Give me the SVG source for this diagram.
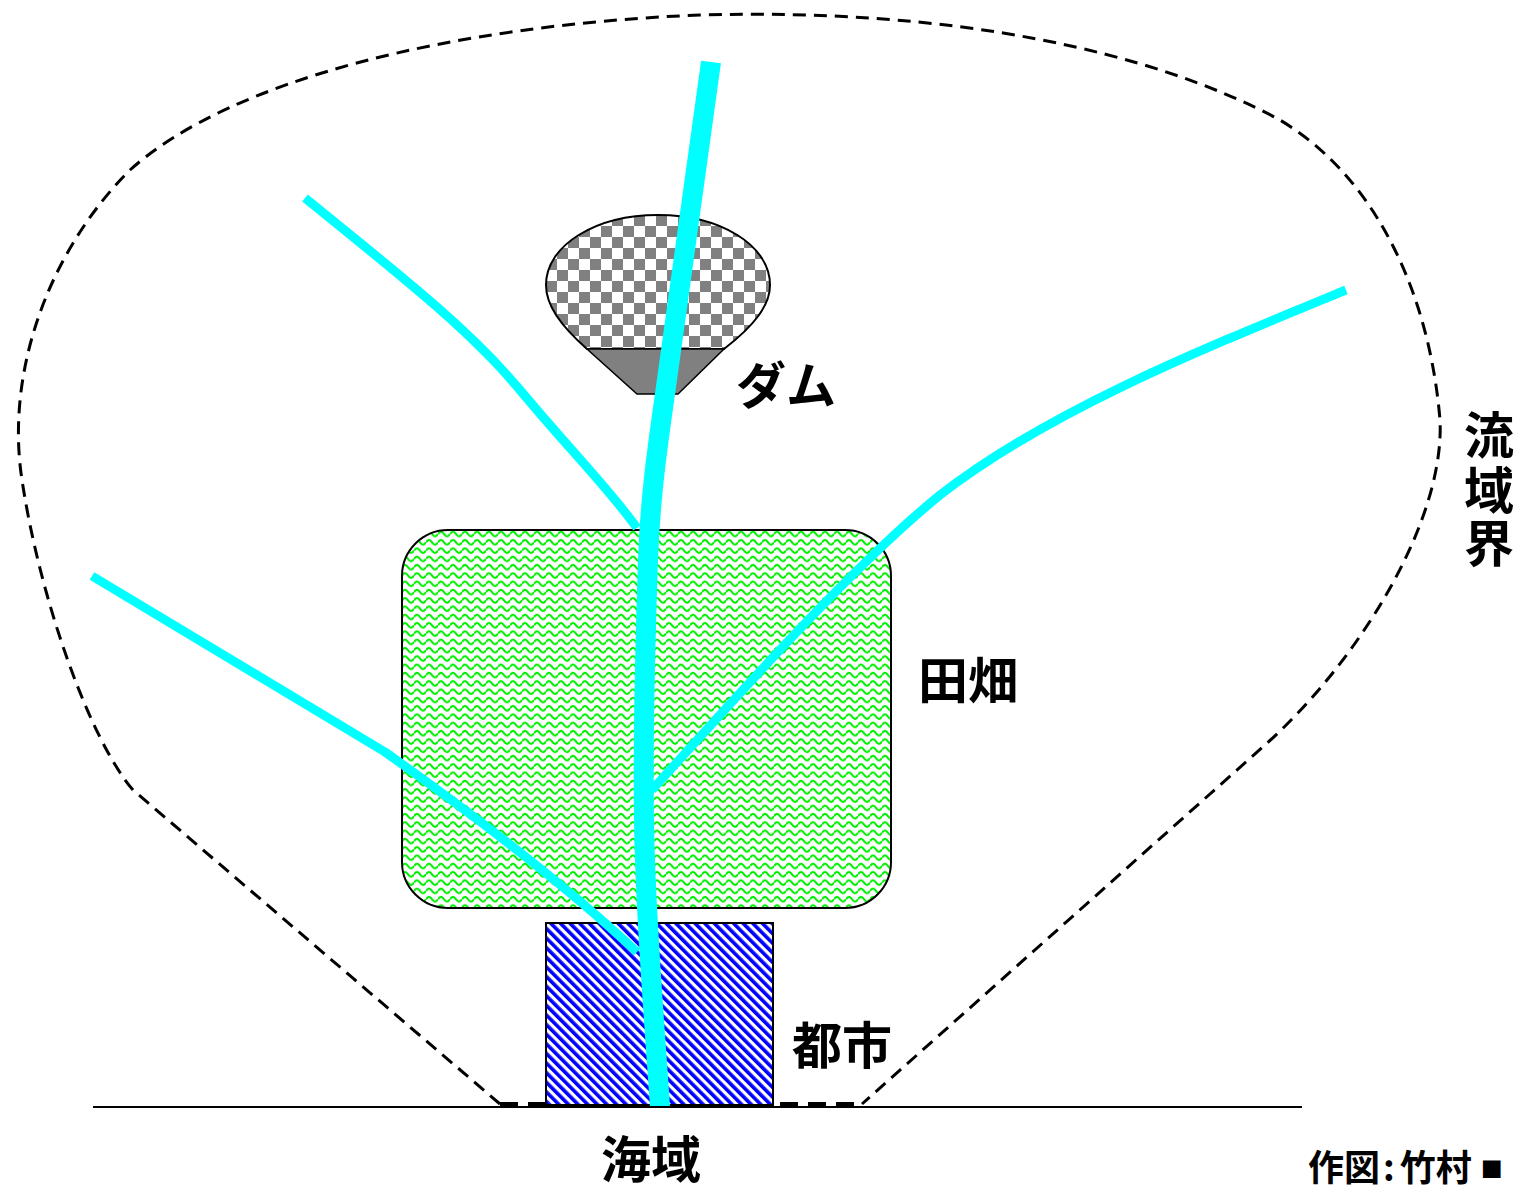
<svg xmlns="http://www.w3.org/2000/svg" width="1519" height="1186" viewBox="0 0 1519 1186">
  <style>
    .lbl { font-family: "Noto Sans CJK JP", "Noto Sans", sans-serif; font-weight: 700; font-size: 50px; fill: #000; }
    .credit { font-family: "Noto Sans CJK JP", "Noto Sans", sans-serif; font-weight: 700; font-size: 36px; fill: #000; }
    .river { fill: none; stroke: #00FFFF; stroke-linecap: butt; stroke-linejoin: round; }
    .branch { stroke-width: 9; }
    .boundary { fill: none; stroke: #000; stroke-width: 3; stroke-dasharray: 13 8; }
  </style>
  <defs>
    <!-- checker fill for the reservoir -->
    <pattern id="checker" patternUnits="userSpaceOnUse" width="22" height="22" x="546" y="215">
      <rect width="22" height="22" fill="#fff"/>
      <rect width="11" height="11" fill="#808080"/>
      <rect x="11" y="11" width="11" height="11" fill="#808080"/>
    </pattern>
    <!-- wavy green fill for farmland -->
    <pattern id="waves" patternUnits="userSpaceOnUse" width="12" height="8.3" x="402" y="530">
      <rect width="12" height="8.3" fill="#fff"/>
      <path d="M0,4 Q3,-0.5 6,4 Q9,8.5 12,4" fill="none" stroke="#00ee00" stroke-width="2.1"/>
    </pattern>
    <!-- diagonal blue hatching for the city -->
    <pattern id="hatch" patternUnits="userSpaceOnUse" width="6.8" height="10" patternTransform="rotate(-45)">
      <rect width="6.8" height="10" fill="#fff"/>
      <rect width="3.6" height="10" fill="#0000FF"/>
    </pattern>
  </defs>

  <!-- watershed boundary -->
  <g id="watershed">
    <path class="boundary" d="M500,1104 L133,790 C90,740 40,600 22,480 C5,370 50,250 130,170 C230,80 450,25 700,15 C950,8 1150,50 1280,120 C1380,180 1430,300 1440,420 C1445,520 1360,660 1265,745 L862,1104"/>
    <path d="M500,1104 L862,1104" fill="none" stroke="#000" stroke-width="4" stroke-dasharray="18 10"/>
  </g>

  <!-- farmland -->
  <g id="farmland">
    <rect x="402" y="530" width="489" height="378" rx="46" ry="46" fill="url(#waves)" stroke="#000" stroke-width="2"/>
  </g>

  <!-- city -->
  <g id="city">
    <rect x="546" y="923" width="227" height="182" fill="url(#hatch)" stroke="#000" stroke-width="2"/>
  </g>

  <!-- dam and reservoir -->
  <g id="dam">
    <path d="M587,349 C560,325 546,305 546,285 C546,245 596,215 658,215 C720,215 770,245 770,285 C770,305 755,325 724,349 Z" fill="url(#checker)" stroke="#000" stroke-width="2"/>
    <polygon points="587,349 724,349 678,394 637,394" fill="#808080" stroke="#000" stroke-width="1.5"/>
  </g>

  <!-- rivers -->
  <g id="rivers">
    <path class="river branch" d="M305,198 C400,275 470,330 520,390 C570,450 610,490 637,528"/>
    <path class="river branch" d="M92,576 L385,752 C460,805 560,880 637,952"/>
    <path class="river branch" d="M1346,290 C1200,350 1050,410 940,495 C860,560 760,670 652,790"/>
    <path class="river" stroke-width="20" d="M711,62 L665,394 C657,450 650,500 648,560 C644,680 642,780 645,860 C648,950 655,1030 660,1107"/>
  </g>

  <!-- coastline -->
  <g id="coast">
    <line x1="93" y1="1107" x2="1302" y2="1107" stroke="#000" stroke-width="2"/>
  </g>

  <!-- labels -->
  <g id="labels">
    <text class="lbl" x="736" y="404">ダム</text>
    <text class="lbl" x="918" y="699">田畑</text>
    <text class="lbl" x="792" y="1064">都市</text>
    <text class="lbl" x="601" y="1178">海域</text>
    <text class="lbl" x="1464" y="454">流</text>
    <text class="lbl" x="1464" y="509">域</text>
    <text class="lbl" x="1464" y="562">界</text>
    <text class="credit" x="1308" y="1181">作図<tspan dx="3">:</tspan><tspan dx="5">竹村</tspan><tspan dx="9" font-size="22" dy="-4">■</tspan></text>
  </g>
</svg>
